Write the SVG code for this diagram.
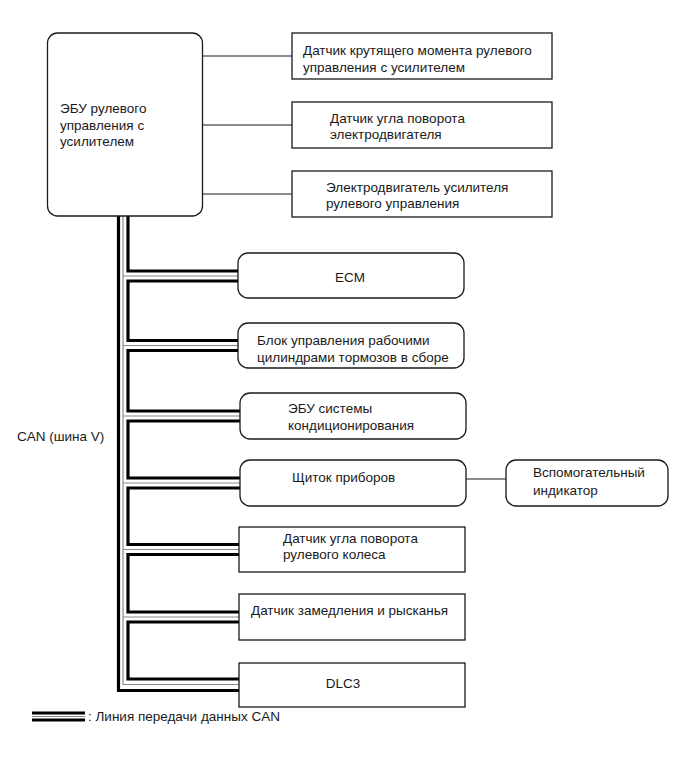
<svg xmlns="http://www.w3.org/2000/svg" width="691" height="757" viewBox="0 0 691 757">
<style>
  .box { fill: #ffffff; stroke: #1a1a1a; stroke-width: 1.3; }
  .t { font-family: "Liberation Sans", Arial, sans-serif; font-size: 13.5px; fill: #1a1a1a; }
  .thin { fill: none; stroke: #1a1a1a; stroke-width: 1.1; }
  .wire { fill: none; stroke: #000000; stroke-width: 3.2; stroke-linejoin: miter; stroke-linecap: butt; }
  .gray { fill: none; stroke: #8a8a8a; stroke-width: 1.2; }
</style>
<rect width="691" height="757" fill="#ffffff"/>

<g id="connectors">
  <path class="thin" d="M202,56 H292 M202,125 H292 M202,194 H292 M466,479 H506"/>
  <!-- CAN bus: outer wire -->
  <path class="wire" d="M118.5,216 V690.5 H239"/>
  <!-- CAN bus: middle gray line -->
  <path class="gray" d="M123,216 V684.5 H239 M123,276 H238 M123,345.5 H238 M123,416 H240 M123,483 H240 M123,549.5 H239 M123,617 H239"/>
  <!-- CAN bus: inner wire looping through each node -->
  <path class="wire" d="M128,216 V271 H238 M238,281 H128 V340.5 H238 M238,350.5 H128 V411 H240 M240,421 H128 V478 H240 M240,488 H128 V544.5 H239 M239,554.5 H128 V612 H239 M239,622 H128 V679 H239"/>
</g>

<g id="eps-ecu">
  <rect class="box" x="47.5" y="33" width="155" height="183" rx="10"/>
  <text class="t" x="60" y="112.5">ЭБУ рулевого</text>
  <text class="t" x="60" y="129.5">управления с</text>
  <text class="t" x="60" y="146">усилителем</text>
</g>

<g id="torque-sensor">
  <rect class="box" x="292" y="33" width="260" height="46"/>
  <text class="t" x="303" y="54.5">Датчик крутящего момента рулевого</text>
  <text class="t" x="303" y="71.5">управления с усилителем</text>
</g>

<g id="motor-angle-sensor">
  <rect class="box" x="292" y="102" width="260" height="46"/>
  <text class="t" x="330" y="122.5">Датчик угла поворота</text>
  <text class="t" x="330" y="139">электродвигателя</text>
</g>

<g id="eps-motor">
  <rect class="box" x="292" y="171" width="260" height="46"/>
  <text class="t" x="326" y="191.5">Электродвигатель усилителя</text>
  <text class="t" x="326" y="208">рулевого управления</text>
</g>

<g id="ecm">
  <rect class="box" x="238" y="253" width="226" height="45" rx="10"/>
  <text class="t" x="350" y="281.5" text-anchor="middle">ECM</text>
</g>

<g id="brake-actuator">
  <rect class="box" x="238" y="323" width="226" height="45" rx="10"/>
  <text class="t" x="257" y="344.5">Блок управления рабочими</text>
  <text class="t" x="257" y="361.5">цилиндрами тормозов в сборе</text>
</g>

<g id="ac-ecu">
  <rect class="box" x="240" y="393" width="226" height="46" rx="10"/>
  <text class="t" x="288" y="412.5">ЭБУ системы</text>
  <text class="t" x="288" y="430">кондиционирования</text>
</g>

<g id="combination-meter">
  <rect class="box" x="240" y="460" width="226" height="46" rx="10"/>
  <text class="t" x="292" y="482">Щиток приборов</text>
</g>

<g id="sub-indicator">
  <rect class="box" x="506" y="460" width="162" height="46" rx="10"/>
  <text class="t" x="533" y="477">Вспомогательный</text>
  <text class="t" x="533" y="494.5">индикатор</text>
</g>

<g id="steering-angle-sensor">
  <rect class="box" x="239" y="527" width="226" height="45"/>
  <text class="t" x="283" y="542.5">Датчик угла поворота</text>
  <text class="t" x="283" y="559">рулевого колеса</text>
</g>

<g id="yaw-rate-sensor">
  <rect class="box" x="239" y="594" width="226" height="46"/>
  <text class="t" x="251" y="614.5">Датчик замедления и рысканья</text>
</g>

<g id="dlc3">
  <rect class="box" x="239" y="663" width="226" height="44"/>
  <text class="t" x="343" y="688" text-anchor="middle">DLC3</text>
</g>

<g id="labels">
  <text class="t" x="17" y="441">CAN (шина V)</text>
  <path class="wire" d="M32,713 H85 M32,720 H85"/>
  <path class="gray" d="M32,716.5 H85"/>
  <text class="t" x="88" y="721">: Линия передачи данных CAN</text>
</g>
</svg>
